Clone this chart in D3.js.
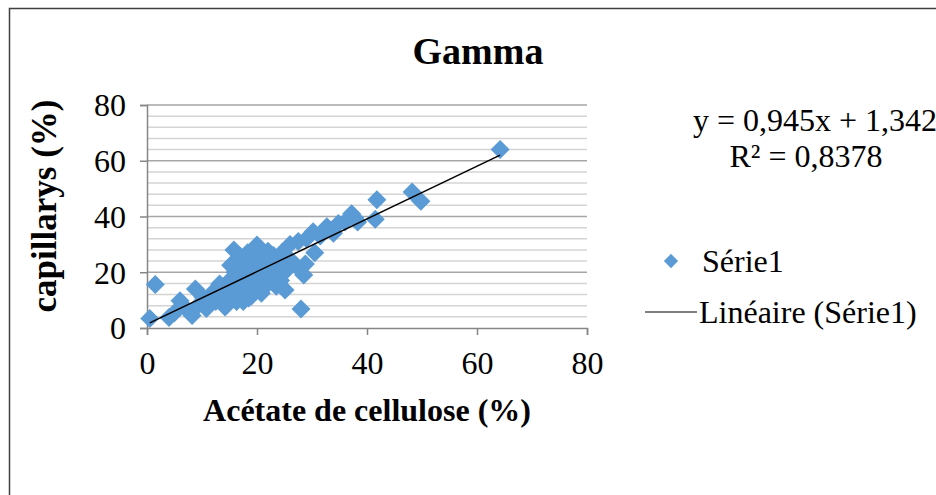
<!DOCTYPE html>
<html>
<head>
<meta charset="utf-8">
<script src="https://cdn.jsdelivr.net/npm/d3@7"></script>
<style>
  body { margin: 0; background: #fff; }
  svg { display: block; }
</style>
</head>
<body>
<svg id="chart" width="936" height="495"></svg>
<script>
// Labels
const chartTitle = "Gamma";
const xLabel = "Acétate de cellulose (%)";
const yLabel = "capillarys (%)";
const seriesName = "Série1";
const trendName = "Linéaire (Série1)";

// Scatter values: acétate de cellulose (%) vs capillarys (%)
const xValues = [0.5, 1.5, 4.0, 5.0, 6.0, 6.8, 8.2, 8.8, 9.5, 10.2, 10.8, 11.8, 12.5, 13.2, 13.5, 14.2, 14.5,
  15.0, 15.8, 15.8, 16.0, 16.3, 16.8, 17.0, 17.2, 17.5, 17.8, 18.0, 18.2, 18.5, 18.8, 19.0, 19.2, 19.5, 19.8,
  20.0, 20.3, 20.5, 20.8, 21.0, 21.5, 21.8, 22.0, 22.3, 22.8, 23.0, 23.5, 24.0, 24.5, 25.0, 25.1, 25.5,
  26.0, 26.3, 27.0, 27.5, 28.0, 28.5, 28.8, 29.0, 30.2, 30.5, 31.5, 32.7, 33.9, 34.8, 36.0, 37.2, 37.8,
  38.3, 41.5, 41.8, 48.2, 49.8, 64.2,
  11.5, 12.8, 14.8, 15.5, 16.5, 17.0, 18.0, 19.5, 20.5, 21.2, 21.5, 22.5, 23.2, 23.8, 24.3, 19.0, 17.5,
  15.2, 16.8, 18.3];
const yValues = [3.4, 15.6, 3.8, 5.5, 9.8, 7.5, 4.5, 14.0, 8.5, 11.0, 7.0, 12.5, 9.5, 15.8, 11.0, 7.5, 13.5,
  17.0, 28.0, 12.0, 20.0, 9.5, 15.0, 23.0, 11.5, 18.0, 25.0, 13.5, 21.0, 10.8, 16.5, 19.5, 24.0, 13.0, 22.0,
  29.8, 17.0, 26.0, 12.5, 20.0, 24.5, 15.5, 27.5, 21.0, 18.0, 26.0, 15.0, 22.5, 27.0, 20.0, 13.6, 25.0,
  30.0, 24.0, 22.5, 31.0, 6.8, 19.0, 23.0, 32.0, 34.5, 27.0, 33.0, 36.3, 34.0, 37.5, 38.0, 41.0, 39.5,
  38.0, 39.0, 46.0, 48.8, 45.5, 64.0,
  10.0, 13.0, 10.5, 14.0, 18.5, 21.5, 17.0, 16.0, 19.0, 22.5, 17.5, 24.0, 19.5, 23.5, 17.0, 11.5, 9.5,
  22.5, 26.0, 27.0];

// Axis ticks
const xTicks = [0, 20, 40, 60, 80];
const yTicks = [0, 20, 40, 60, 80];
const yMinorStep = 4;

// Linear trend line
const slope = 0.945;
const intercept = 1.342;
const rSquared = 0.8378;

const FONT = "Liberation Serif, Times New Roman, serif";
const svg = d3.select("#chart");
const blue = "#5B9BD5";

// Outer chart frame
svg.append("rect")
  .attr("x", 9.5).attr("y", 8.5).attr("width", 940).attr("height", 500)
  .attr("fill", "none").attr("stroke", "#3f3f3f").attr("stroke-width", 1.5);

const x = d3.scaleLinear().domain([0, 80]).range([147, 587]);
const y = d3.scaleLinear().domain([0, 80]).range([328, 105]);

// Gridlines: minor first, then major on top
const minorVals = d3.range(0, 81, yMinorStep).filter(v => !yTicks.includes(v));
svg.append("g").selectAll("line").data(minorVals).join("line")
  .attr("x1", x(0)).attr("x2", x(80))
  .attr("y1", d => y(d)).attr("y2", d => y(d))
  .attr("stroke", "#d4d4d4").attr("stroke-width", 1.5);
svg.append("g").selectAll("line").data(yTicks.filter(v => v > 0)).join("line")
  .attr("x1", x(0)).attr("x2", x(80))
  .attr("y1", d => y(d)).attr("y2", d => y(d))
  .attr("stroke", "#a6a6a6").attr("stroke-width", 1.5);

// Axes
const xAxis = svg.append("g").attr("transform", `translate(0,${y(0)})`)
  .call(d3.axisBottom(x).tickValues(xTicks).tickSize(7).tickPadding(16).tickFormat(d3.format("d")));
const yAxis = svg.append("g").attr("transform", `translate(${x(0)},0)`)
  .call(d3.axisLeft(y).tickValues(yTicks).tickSize(7).tickPadding(14).tickFormat(d3.format("d")));
[xAxis, yAxis].forEach(a => {
  a.attr("font-family", FONT);
  a.select(".domain").attr("stroke", "#868686").attr("stroke-width", 1.5);
  a.selectAll(".tick line").attr("stroke", "#868686").attr("stroke-width", 1.5);
  a.selectAll(".tick text").attr("font-family", FONT)
    .attr("font-size", 32).attr("fill", "#000");
});
yAxis.selectAll(".tick text").attr("dy", "0.34em");

// Trend line over the observed x range
const xExtent = d3.extent(xValues);

// Diamond markers
const diamond = d3.symbol().type(d3.symbolDiamond2).size(230);
const pts = xValues.map((v, i) => [v, yValues[i]]);
svg.append("g").selectAll("path").data(pts).join("path")
  .attr("d", diamond)
  .attr("transform", d => `translate(${x(d[0])},${y(d[1])})`)
  .attr("fill", blue);

svg.append("line")
  .attr("x1", x(xExtent[0])).attr("y1", y(slope * xExtent[0] + intercept))
  .attr("x2", x(xExtent[1])).attr("y2", y(slope * xExtent[1] + intercept))
  .attr("stroke", "#000").attr("stroke-width", 1.5);

// Title and axis titles
svg.append("text").attr("x", 478).attr("y", 64).attr("text-anchor", "middle")
  .attr("font-family", FONT).attr("font-size", 38).attr("font-weight", "bold").text(chartTitle);
svg.append("text").attr("x", 367).attr("y", 421).attr("text-anchor", "middle")
  .attr("font-family", FONT).attr("font-size", 32).attr("font-weight", "bold").text(xLabel);
svg.append("text").attr("transform", "translate(56,206) rotate(-90)").attr("text-anchor", "middle")
  .attr("font-family", FONT).attr("font-size", 35).attr("font-weight", "bold").text(yLabel);

// Regression equation
const fmt = (v, n) => v.toFixed(n).replace(".", ",");
svg.append("text").attr("x", 815).attr("y", 131).attr("text-anchor", "middle")
  .attr("font-family", FONT).attr("font-size", 32).text(`y = ${fmt(slope, 3)}x + ${fmt(intercept, 3)}`);
svg.append("text").attr("x", 806).attr("y", 167).attr("text-anchor", "middle")
  .attr("font-family", FONT).attr("font-size", 32).text(`R² = ${fmt(rSquared, 4)}`);

// Legend
const legend = svg.append("g").attr("font-family", FONT);
legend.append("path").attr("d", d3.symbol().type(d3.symbolDiamond2).size(130))
  .attr("transform", "translate(671,261)").attr("fill", blue);
legend.append("text").attr("x", 702).attr("y", 272).attr("font-size", 32).text(seriesName);
legend.append("line").attr("x1", 645).attr("x2", 697).attr("y1", 312).attr("y2", 312)
  .attr("stroke", "#000").attr("stroke-width", 1.2);
legend.append("text").attr("x", 699).attr("y", 323).attr("font-size", 32).text(trendName);
</script>
</body>
</html>
